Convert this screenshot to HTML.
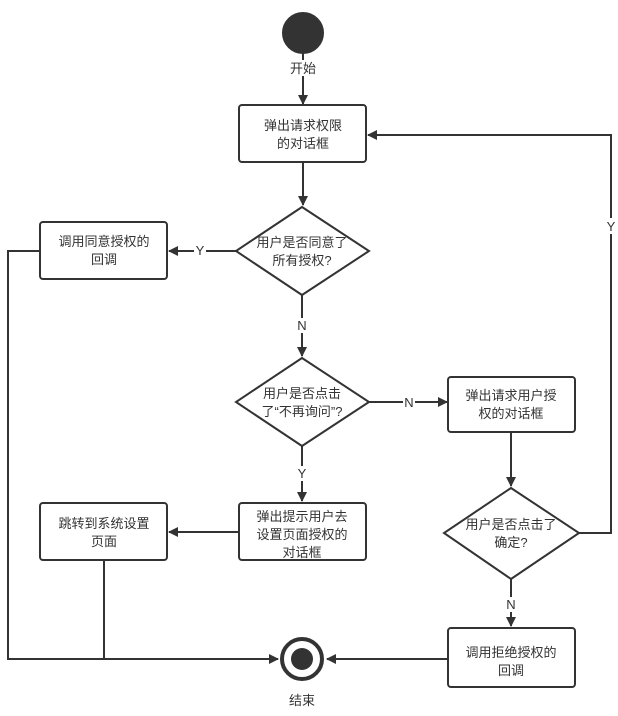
<!DOCTYPE html>
<html><head><meta charset="utf-8"><style>
html,body{margin:0;padding:0;background:#fff;}
svg text{font-family:"Liberation Sans","Noto Sans CJK SC",sans-serif;font-size:13px;fill:#333;}
</style></head><body>
<svg width="618" height="711" viewBox="0 0 618 711" xmlns="http://www.w3.org/2000/svg">
<defs>
<marker id="a" markerWidth="10" markerHeight="10" refX="9" refY="5" orient="auto" markerUnits="userSpaceOnUse">
<path d="M0,0 L10,5 L0,10 Z" fill="#333"/></marker>
</defs>
<g stroke="#333" stroke-width="2" fill="none">
<circle cx="303" cy="33" r="20" fill="#333"/>
<line x1="303" y1="53" x2="303" y2="104" marker-end="url(#a)"/>
<rect x="239" y="105" width="127" height="57" rx="3" fill="#fff"/>
<line x1="303" y1="162" x2="303" y2="205" marker-end="url(#a)"/>
<polygon points="302,207 369,251 302,295 236,251" fill="#fff"/>
<line x1="236" y1="251" x2="169" y2="251" marker-end="url(#a)"/>
<rect x="40" y="222" width="127" height="57" rx="3" fill="#fff"/>
<line x1="302" y1="295" x2="302" y2="356" marker-end="url(#a)"/>
<polygon points="302,358 369,402 302,446 236,402" fill="#fff"/>
<line x1="369" y1="402" x2="447" y2="402" marker-end="url(#a)"/>
<rect x="448" y="377" width="127" height="55" rx="3" fill="#fff"/>
<line x1="511" y1="432" x2="511" y2="486" marker-end="url(#a)"/>
<polygon points="511,488 579,533 511,579 444,533" fill="#fff"/>
<polyline points="579,533 611,533 611,135 368,135" marker-end="url(#a)"/>
<line x1="302" y1="446" x2="302" y2="501" marker-end="url(#a)"/>
<rect x="239" y="503" width="127" height="57" rx="3" fill="#fff"/>
<line x1="239" y1="532" x2="169" y2="532" marker-end="url(#a)"/>
<rect x="40" y="503" width="127" height="57" rx="3" fill="#fff"/>
<line x1="511" y1="579" x2="511" y2="626" marker-end="url(#a)"/>
<rect x="448" y="628" width="127" height="59" rx="3" fill="#fff"/>
<line x1="448" y1="659" x2="327" y2="659" marker-end="url(#a)"/>
<polyline points="40,251 8,251 8,659 278,659" marker-end="url(#a)"/>
<line x1="104" y1="560" x2="104" y2="659"/>
<circle cx="302" cy="659" r="20" stroke-width="4" fill="#fff"/>
<circle cx="302" cy="659" r="11" fill="#333" stroke="none"/>
</g>
<g text-anchor="middle">
<rect x="289" y="60" width="28" height="16" fill="#fff"/>
<text x="303" y="73">开始</text>
<text x="303" y="130">弹出请求权限</text>
<text x="303" y="148">的对话框</text>
<text x="104" y="246">调用同意授权的</text>
<text x="104" y="264">回调</text>
<rect x="194" y="243" width="12" height="15" fill="#fff"/>
<text x="200" y="255">Y</text>
<text x="302" y="247">用户是否同意了</text>
<text x="302" y="265">所有授权?</text>
<rect x="296" y="318" width="12" height="15" fill="#fff"/>
<text x="302" y="330">N</text>
<text x="302" y="398">用户是否点击</text>
<text x="302" y="416">了“不再询问”?</text>
<rect x="403" y="395" width="12" height="15" fill="#fff"/>
<text x="409" y="407">N</text>
<text x="511" y="400">弹出请求用户授</text>
<text x="511" y="418">权的对话框</text>
<rect x="296" y="466" width="12" height="15" fill="#fff"/>
<text x="302" y="478">Y</text>
<text x="302" y="521">弹出提示用户去</text>
<text x="302" y="539">设置页面授权的</text>
<text x="302" y="557">对话框</text>
<text x="104" y="528">跳转到系统设置</text>
<text x="104" y="546">页面</text>
<text x="511" y="529">用户是否点击了</text>
<text x="511" y="547">确定?</text>
<rect x="605" y="218" width="12" height="16" fill="#fff"/>
<text x="611" y="231">Y</text>
<rect x="505" y="597" width="12" height="15" fill="#fff"/>
<text x="511" y="609">N</text>
<text x="511" y="657">调用拒绝授权的</text>
<text x="511" y="675">回调</text>
<text x="302" y="705">结束</text>
</g>
</svg>
</body></html>
